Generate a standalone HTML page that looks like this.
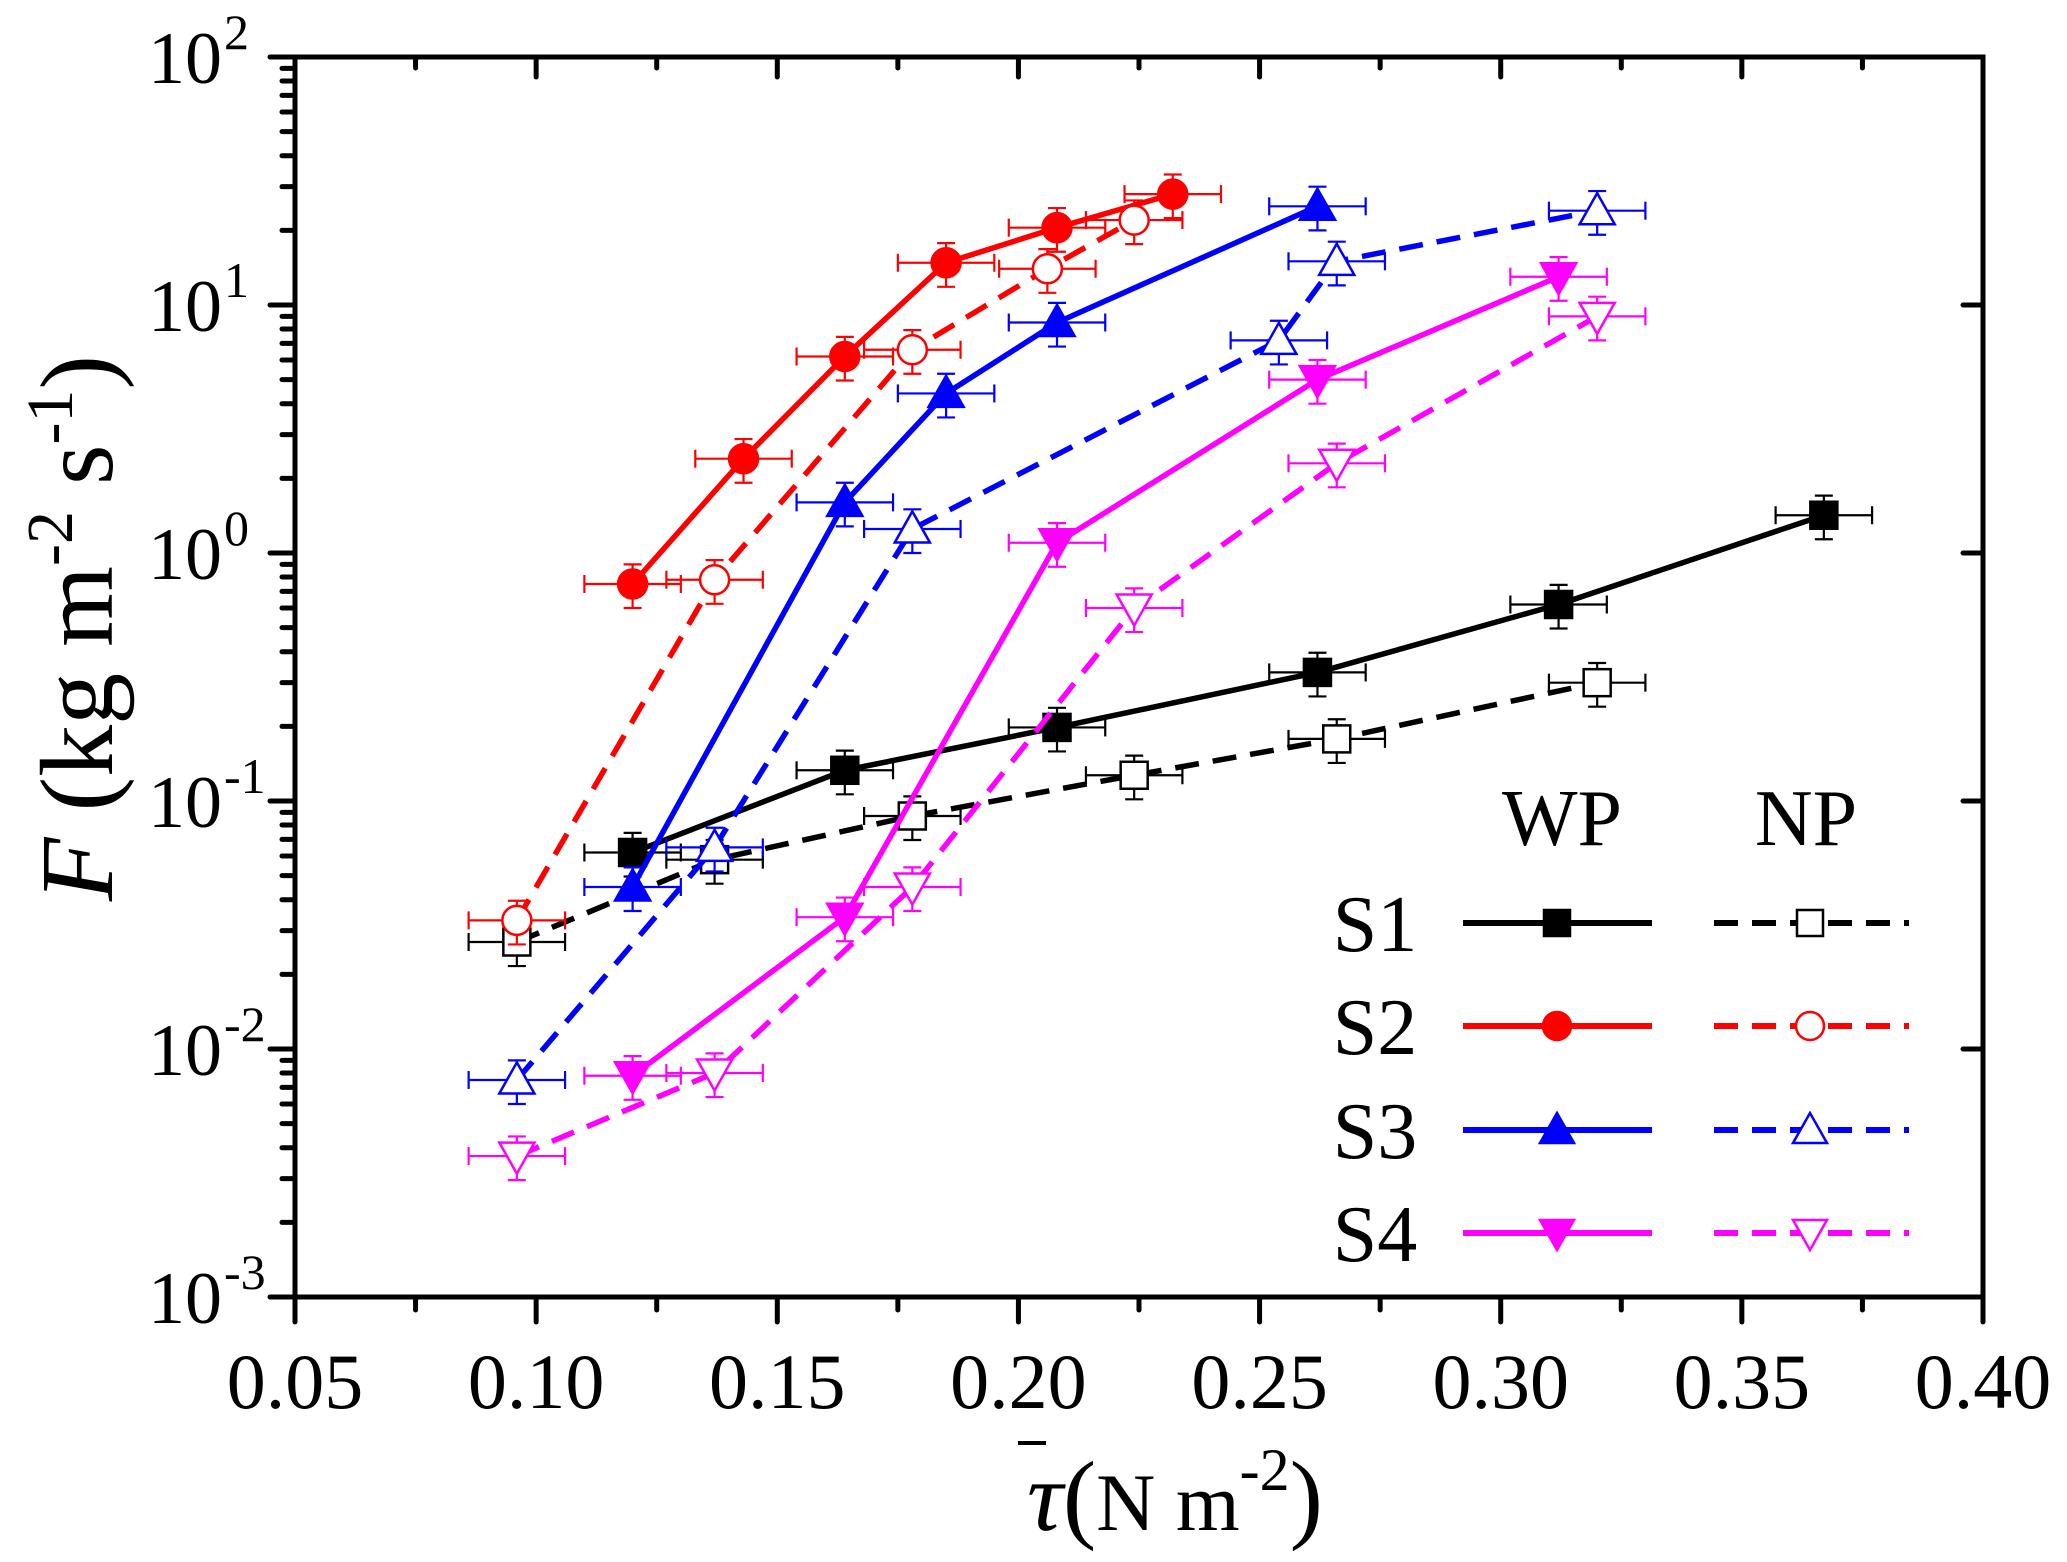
<!DOCTYPE html>
<html><head><meta charset="utf-8"><style>
html,body{margin:0;padding:0;background:#fff}
svg{display:block;font-family:"Liberation Serif",serif}
</style></head><body>
<svg id="chart" width="2067" height="1562" viewBox="0 0 2067 1562" xmlns="http://www.w3.org/2000/svg">
<g id="series"></g>
<g id="axes"></g>
<g id="legend"></g>
</svg>
<script>
const xTicks=[0.05,0.10,0.15,0.20,0.25,0.30,0.35,0.40];
const xTickLabels=["0.05","0.10","0.15","0.20","0.25","0.30","0.35","0.40"];
const yExps=[-3,-2,-1,0,1,2];

const s1wpX=[0.120,0.164,0.208,0.262,0.312,0.367];
const s1wpY=[0.062,0.133,0.198,0.33,0.62,1.42];
const s1npX=[0.096,0.137,0.178,0.224,0.266,0.320];
const s1npY=[0.027,0.058,0.087,0.127,0.178,0.30];
const s2wpX=[0.120,0.143,0.164,0.185,0.208,0.232];
const s2wpY=[0.75,2.4,6.2,14.8,20.5,28];
const s2npX=[0.096,0.137,0.178,0.206,0.224];
const s2npY=[0.033,0.78,6.6,14,22];
const s3wpX=[0.120,0.164,0.185,0.208,0.262];
const s3wpY=[0.045,1.6,4.4,8.5,25];
const s3npX=[0.096,0.137,0.178,0.254,0.266,0.320];
const s3npY=[0.0075,0.065,1.25,7.2,15,24];
const s4wpX=[0.120,0.164,0.208,0.262,0.312];
const s4wpY=[0.0078,0.034,1.1,5.0,13];
const s4npX=[0.096,0.137,0.178,0.224,0.266,0.320];
const s4npY=[0.0037,0.008,0.045,0.6,2.3,9.0];
const yErrRel=0.2;
const xErr=0.010;

const L=295,R=1983,T=57,B=1297;
const xs=v=>L+(v-0.05)/0.35*(R-L);
const ys=v=>B-(Math.log10(v)+3)/5*(B-T);
const NS="http://www.w3.org/2000/svg";
function mk(parent,tag,attrs){const e=document.createElementNS(NS,tag);for(const k in attrs)e.setAttribute(k,attrs[k]);parent.appendChild(e);return e;}

const seriesG=document.getElementById('series');
const axesG=document.getElementById('axes');
const legG=document.getElementById('legend');

function marker(g,shape,filled,color,cx,cy,sz){
  const f=filled?color:'#fff';let e;
  if(shape==='sq') e=mk(g,'rect',{x:cx-sz/2,y:cy-sz/2,width:sz,height:sz,fill:f,stroke:color,'stroke-width':2.5});
  else if(shape==='ci') e=mk(g,'circle',{cx:cx,cy:cy,r:sz/2+1,fill:f,stroke:color,'stroke-width':2.5});
  else if(shape==='up') e=mk(g,'polygon',{points:`${cx},${cy-sz*0.65} ${cx-sz*0.65},${cy+sz*0.5} ${cx+sz*0.65},${cy+sz*0.5}`,fill:f,stroke:color,'stroke-width':2.5});
  else e=mk(g,'polygon',{points:`${cx},${cy+sz*0.65} ${cx-sz*0.65},${cy-sz*0.5} ${cx+sz*0.65},${cy-sz*0.5}`,fill:f,stroke:color,'stroke-width':2.5});
  return e;
}

function drawSeries(name,X,Y,color,shape,filled){
  const g=mk(seriesG,'g',{});
  
  
  const pts=X.map((x,i)=>xs(x)+','+ys(Y[i])).join(' ');
  const ln=mk(g,'polyline',{points:pts,fill:'none',stroke:color,'stroke-width':5.5,'stroke-dasharray':filled?'none':'24 14'});
  
  
  X.forEach((x,i)=>{
    const cx=xs(x),cy=ys(Y[i]);
    const eg=mk(g,'g',{stroke:color,'stroke-width':2.2,fill:'none'});
    
    
    const x1=xs(x-xErr),x2=xs(x+xErr),y1=ys(Y[i]*(1+yErrRel)),y2=ys(Y[i]*(1-yErrRel));
    mk(eg,'line',{x1:x1,y1:cy,x2:x2,y2:cy});
    mk(eg,'line',{x1:x1,y1:cy-9,x2:x1,y2:cy+9});
    mk(eg,'line',{x1:x2,y1:cy-9,x2:x2,y2:cy+9});
    mk(eg,'line',{x1:cx,y1:y1,x2:cx,y2:y2});
    mk(eg,'line',{x1:cx-9,y1:y1,x2:cx+9,y2:y1});
    mk(eg,'line',{x1:cx-9,y1:y2,x2:cx+9,y2:y2});
    const m=marker(g,shape,filled,color,cx,cy,27);
    
    
  });
}
drawSeries('s1-wp',s1wpX,s1wpY,'#000','sq',true);
drawSeries('s1-np',s1npX,s1npY,'#000','sq',false);
drawSeries('s2-wp',s2wpX,s2wpY,'#ff0000','ci',true);
drawSeries('s2-np',s2npX,s2npY,'#ff0000','ci',false);
drawSeries('s3-wp',s3wpX,s3wpY,'#0000ff','up',true);
drawSeries('s3-np',s3npX,s3npY,'#0000ff','up',false);
drawSeries('s4-wp',s4wpX,s4wpY,'#ff00ff','dn',true);
drawSeries('s4-np',s4npX,s4npY,'#ff00ff','dn',false);

const frame=mk(axesG,'rect',{x:L,y:T,width:R-L,height:B-T,fill:'none',stroke:'#000','stroke-width':5});


const tg=mk(axesG,'g',{stroke:'#000','stroke-width':5,'stroke-linecap':'round'});
xTicks.forEach((v,i)=>{
  const x=xs(v);
  mk(tg,'line',{x1:x,y1:B,x2:x,y2:B+25});
  mk(tg,'line',{x1:x,y1:T,x2:x,y2:T+20});
  if(i<xTicks.length-1){const xm=xs(v+0.025);mk(tg,'line',{x1:xm,y1:B,x2:xm,y2:B+13});mk(tg,'line',{x1:xm,y1:T,x2:xm,y2:T+11});}
  const t=mk(axesG,'text',{x:x,y:1408,'font-size':78,'text-anchor':'middle',fill:'#000'});
  t.textContent=xTickLabels[i];
  
  
});
yExps.forEach((e,i)=>{
  const y=ys(Math.pow(10,e));
  mk(tg,'line',{x1:L,y1:y,x2:L-25,y2:y});
  mk(tg,'line',{x1:R,y1:y,x2:R-20,y2:y});
  if(i<yExps.length-1){for(let k=2;k<10;k++){const ym=ys(k*Math.pow(10,e));mk(tg,'line',{x1:L,y1:ym,x2:L-13,y2:ym});}}
  const t=mk(axesG,'text',{x:222,y:y+26,'font-size':74,'text-anchor':'end',fill:'#000'});
  t.textContent='10';
  
  
  const s=mk(axesG,'text',{x:224,y:y-8,'font-size':50,'text-anchor':'start',fill:'#000'});
  s.textContent=String(e);
  
  
});
</script>
<script>
(function(){
const axesG=document.getElementById('axes');
const legG=document.getElementById('legend');
axesG.insertAdjacentHTML('beforeend',
 '<text transform="translate(112,628) rotate(-90)" text-anchor="middle" font-size="104" fill="#000"><tspan font-style="italic">F</tspan> (kg m<tspan font-size="66" dy="-40">-2</tspan><tspan dy="40"> s</tspan><tspan font-size="66" dy="-40">-1</tspan><tspan dy="40">)</tspan></text>'+
 '<text x="1175" y="1530" text-anchor="middle" font-size="82" fill="#000"><tspan font-style="italic" font-size="100">τ</tspan><tspan font-size="100">(</tspan>N m<tspan font-size="60" dy="-40">-2</tspan><tspan font-size="100" dy="40">)</tspan></text>'+
 '<line x1="1018" y1="1443" x2="1046" y2="1443" stroke="#000" stroke-width="4"/>');
const rows=[["S1","#000","sq"],["S2","#ff0000","ci"],["S3","#0000ff","up"],["S4","#ff00ff","dn"]];
const rowY=[923,1026,1130,1233];
let h='<text x="1562" y="845" font-size="80" text-anchor="middle">WP</text><text x="1806" y="845" font-size="80" text-anchor="middle">NP</text>';
function mkr(shape,filled,c,cx,cy){const f=filled?c:'#fff';
 if(shape==='sq')return `<rect x="${cx-13}" y="${cy-13}" width="26" height="26" fill="${f}" stroke="${c}" stroke-width="2.5"/>`;
 if(shape==='ci')return `<circle cx="${cx}" cy="${cy}" r="14" fill="${f}" stroke="${c}" stroke-width="2.5"/>`;
 if(shape==='up')return `<polygon points="${cx},${cy-17} ${cx-17},${cy+13} ${cx+17},${cy+13}" fill="${f}" stroke="${c}" stroke-width="2.5"/>`;
 return `<polygon points="${cx},${cy+17} ${cx-17},${cy-13} ${cx+17},${cy-13}" fill="${f}" stroke="${c}" stroke-width="2.5"/>`;}
rows.forEach((r,i)=>{const y=rowY[i];
 h+=`<g><text x="1375" y="${y+28}" font-size="80" text-anchor="middle">${r[0]}</text>`+
 `<line x1="1463" y1="${y}" x2="1652" y2="${y}" stroke="${r[1]}" stroke-width="6"/>`+mkr(r[2],true,r[1],1557,y)+
 `<line x1="1714" y1="${y}" x2="1909" y2="${y}" stroke="${r[1]}" stroke-width="6" stroke-dasharray="24 14"/>`+mkr(r[2],false,r[1],1810,y)+`</g>`;});
legG.insertAdjacentHTML('beforeend',h);
})();
</script>
</body></html>
